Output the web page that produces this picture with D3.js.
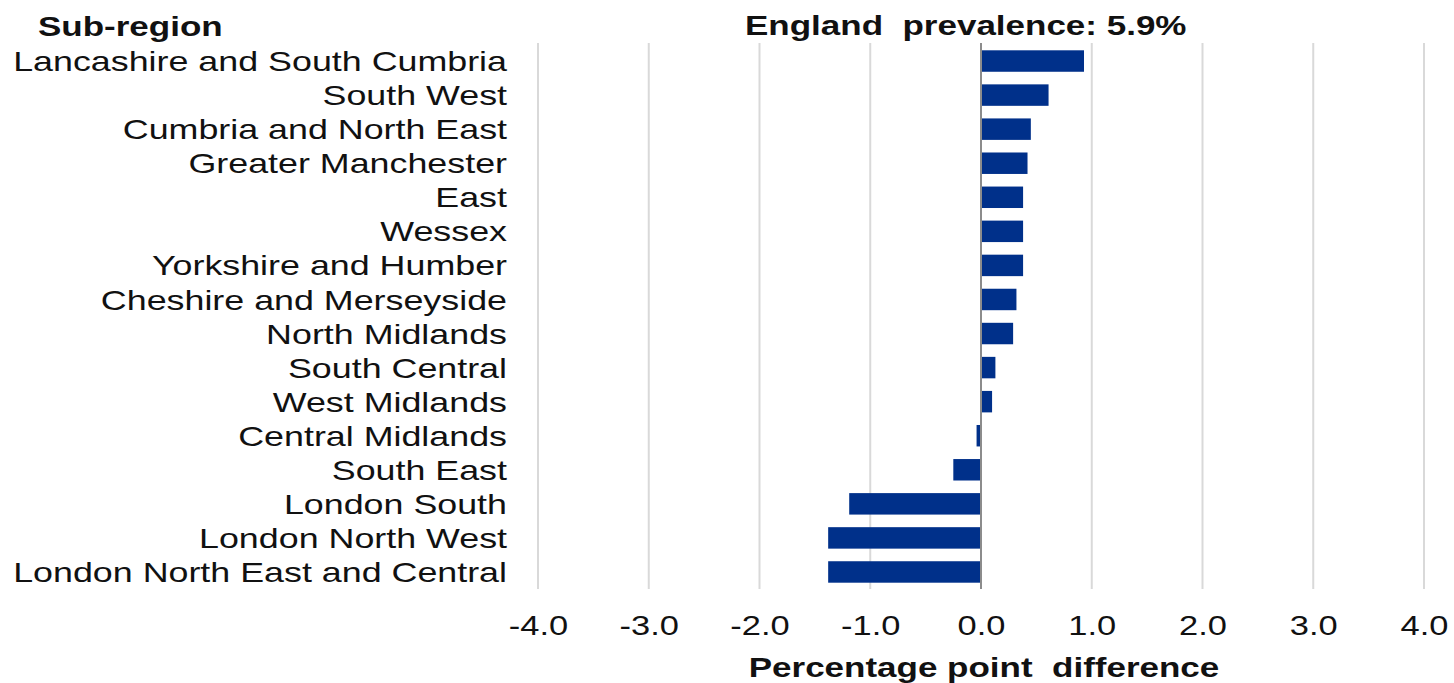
<!DOCTYPE html>
<html>
<head>
<meta charset="utf-8">
<script src="https://cdn.jsdelivr.net/npm/d3@7"></script>
<style>
  html, body { margin: 0; padding: 0; background: #fff; }
  svg { display: block; font-family: "Liberation Sans", Arial, sans-serif; }
</style>
</head>
<body>
<svg id="chart" width="1454" height="683"></svg>
<script>
const subRegions = [
  "Lancashire and South Cumbria", "South West", "Cumbria and North East",
  "Greater Manchester", "East", "Wessex", "Yorkshire and Humber",
  "Cheshire and Merseyside", "North Midlands", "South Central",
  "West Midlands", "Central Midlands", "South East", "London South",
  "London North West", "London North East and Central"
];
const differences = [0.93, 0.61, 0.45, 0.42, 0.38, 0.38, 0.38, 0.32, 0.29, 0.13, 0.10, -0.04, -0.25, -1.19, -1.38, -1.38];
const xTicks = [-4, -3, -2, -1, 0, 1, 2, 3, 4];
const headerLabel = "Sub-region";
const titleLabel = "England  prevalence: 5.9%";
const xAxisTitle = "Percentage point  difference";

const SX = 1.23;      // horizontal stretch of tick text
const SXL = 1.28;     // horizontal stretch of category labels
const SXT = 1.25;     // horizontal stretch of titles
const FS = 28;
const barColor = "#00308a";

const svg = d3.select("#chart");
const x = d3.scaleLinear().domain([-4, 4]).range([538, 1424]);
const y = d3.scaleBand().domain(subRegions).range([44, 589]).paddingInner(0.37).paddingOuter(0.185);

const locale = d3.formatLocale({decimal: ".", thousands: ",", grouping: [3], currency: ["", ""], minus: "-"});
const fmt = locale.format(".1f");

// gridlines
svg.append("g").selectAll("line").data(xTicks.filter(d => d !== 0)).join("line")
  .attr("x1", d => x(d)).attr("x2", d => x(d))
  .attr("y1", 43).attr("y2", 589)
  .attr("stroke", "#d9d9d9").attr("stroke-width", 2);

// bars
svg.append("g").selectAll("rect").data(subRegions).join("rect")
  .attr("x", (d, i) => Math.min(x(0), x(differences[i])))
  .attr("width", (d, i) => Math.abs(x(differences[i]) - x(0)))
  .attr("y", d => y(d))
  .attr("height", y.bandwidth())
  .attr("fill", barColor);

// zero line
svg.append("line")
  .attr("x1", x(0)).attr("x2", x(0)).attr("y1", 43).attr("y2", 589)
  .attr("stroke", "#8c8c8c").attr("stroke-width", 2);

// y axis labels
const yAxis = svg.append("g").attr("transform", "translate(507,0)")
  .call(d3.axisLeft(y).tickSize(0).tickPadding(0));
yAxis.select(".domain").remove();
yAxis.selectAll("text")
  .attr("x", 0).attr("dy", "0.36em")
  .attr("transform", `scale(${SXL},1)`)
  .attr("font-size", FS).attr("font-family", "Liberation Sans, Arial, sans-serif")
  .attr("fill", "#111");

// x axis
const xAxis = svg.append("g").attr("transform", "translate(0,589)")
  .call(d3.axisBottom(x).tickValues(xTicks).tickFormat(fmt).tickSize(0));
xAxis.select(".domain").remove();
xAxis.selectAll("text")
  .attr("y", 46).attr("dy", 0)
  .attr("transform", `scale(${SX},1)`)
  .attr("font-size", FS).attr("font-family", "Liberation Sans, Arial, sans-serif")
  .attr("fill", "#111");

// header texts
svg.append("text").attr("transform", `translate(38,36) scale(${SXT},1)`)
  .attr("font-size", FS).attr("font-weight", "bold").attr("fill", "#111")
  .text(headerLabel);
svg.append("text").attr("transform", `translate(745,35) scale(${SXT},1)`)
  .attr("font-size", FS).attr("font-weight", "bold").attr("fill", "#111")
  .style("white-space", "pre")
  .text(titleLabel);
svg.append("text").attr("transform", `translate(984,677) scale(${SXT},1)`)
  .attr("text-anchor", "middle")
  .attr("font-size", FS).attr("font-weight", "bold").attr("fill", "#111")
  .style("white-space", "pre")
  .text(xAxisTitle);
</script>
</body>
</html>
